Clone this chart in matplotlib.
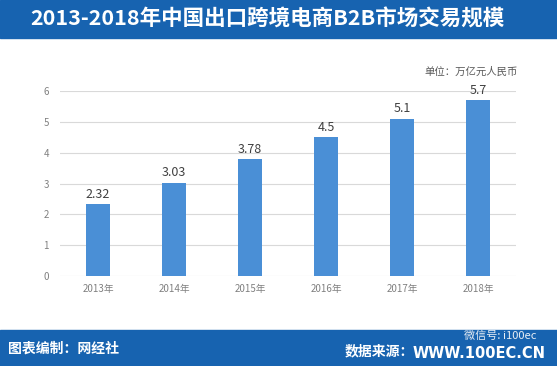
import matplotlib
matplotlib.use("Agg")
import matplotlib.pyplot as plt
from matplotlib.patches import Rectangle

plt.rcParams['font.family'] = ['Noto Sans CJK SC', 'DejaVu Sans']

years = ["2013年", "2014年", "2015年", "2016年", "2017年", "2018年"]
values = [2.32, 3.03, 3.78, 4.5, 5.1, 5.7]
value_labels = ["2.32", "3.03", "3.78", "4.5", "5.1", "5.7"]
yticks = [0, 1, 2, 3, 4, 5, 6]

title = "2013-2018年中国出口跨境电商B2B市场交易规模"
unit = "单位：万亿元人民币"
footer_left = "图表编制：网经社"
footer_right_label = "数据来源："
footer_right_url = "WWW.100EC.CN"
wechat = "微信号: i100ec"

W, H = 557, 366
fig = plt.figure(figsize=(W/100, H/100), dpi=100)
fig.patch.set_facecolor("white")

blue = "#1763b0"
# title bar
fig.patches.append(Rectangle((0, 1-38/H), 1, 38/H, transform=fig.transFigure, color=blue, zorder=0))
fig.text(30/W, 1-19/H, title, color="white", fontsize=15.5, fontweight="bold",
         ha="left", va="center")
# footer bar
fig.patches.append(Rectangle((0, 0), 1, 36/H, transform=fig.transFigure, color=blue, zorder=0))
fig.text(8/W, 17/H, footer_left, color="white", fontsize=10, fontweight="bold",
         ha="left", va="center")
fig.text(546/W, 13/H, footer_right_url, color="white", fontsize=10.5, fontweight="bold",
         ha="right", va="center", family="DejaVu Sans")
fig.text(414/W, 15/H, footer_right_label, color="white", fontsize=10, fontweight="bold",
         ha="right", va="center")
fig.text(536/W, 30/H, wechat, color="#e8eef5", fontsize=8,
         ha="right", va="center")

ax = fig.add_axes([60/W, 1-276/H, 456/W, 185/H])
x = list(range(len(years)))
ax.bar(x, values, width=0.32, color="#4a8fd6", zorder=3)
for xi, v, lab in zip(x, values, value_labels):
    ax.text(xi, v + 0.12, lab, ha="center", va="bottom", fontsize=9, color="#404040")
ax.set_xlim(-0.5, 5.5)
ax.set_ylim(0, 6)
ax.set_yticks(yticks)
ax.set_yticklabels([str(t) for t in yticks], fontsize=7, color="#808080")
ax.set_xticks(x)
ax.set_xticklabels(years, fontsize=7, color="#808080")
ax.grid(axis="y", color="#d9d9d9", linewidth=0.8, zorder=0)
for s in ax.spines.values():
    s.set_visible(False)
ax.tick_params(length=0, pad=6)
ax.tick_params(axis="y", pad=8)

fig.text(518/W, 1-72/H, unit, fontsize=7.5, color="#595959", ha="right", va="center")

fig.savefig("out.png", dpi=100)
